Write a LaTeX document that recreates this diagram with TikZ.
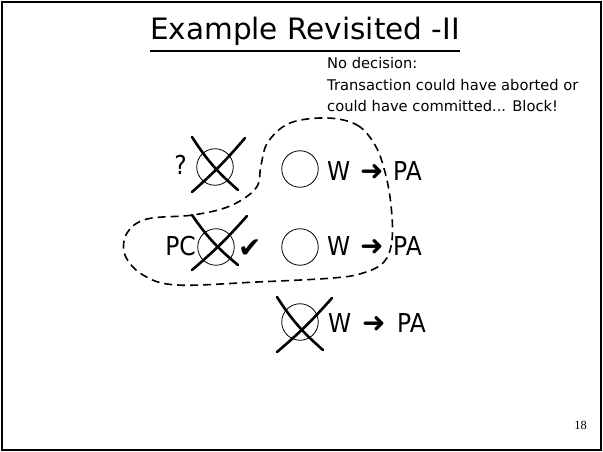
\documentclass[tikz,border=0pt]{standalone}
\usepackage{fontspec}
\setmainfont{DejaVu Sans}
\newfontfamily\narrowfont[FakeStretch=0.9]{DejaVu Sans}
\newfontfamily\symfont{DejaVu Sans}
\newfontfamily\numfont{Liberation Serif}
\usetikzlibrary{calc}
\begin{document}
\begin{tikzpicture}[x=1pt,y=-1pt,
  site/.style={circle,draw,line width=0.8pt,minimum size=36.5pt,inner sep=0pt},
  veto/.style={line width=2.6pt,line cap=round},
  lbl/.style={font=\narrowfont\fontsize{26}{26}\selectfont,inner sep=0pt},
  sym/.style={font=\symfont\bfseries\fontsize{28}{28}\selectfont,inner sep=0pt},
  note/.style={font=\fontsize{14.7}{14.7}\selectfont,inner sep=0pt,anchor=base west},
  group/.style={line width=1.6pt,dash pattern=on 8pt off 5pt}]
\useasboundingbox (0,0) rectangle (603,452);
% slide frame
\draw[line width=2.5pt] (2,2) rectangle (601,450);

% title with underline
\node[font=\fontsize{29.5}{29.5}\selectfont,inner sep=0pt,anchor=base] (title) at (305,40) {Example Revisited -II};
\draw[line width=2.5pt] ($(title.base west)+(0,11)$) -- ($(title.base east)+(0,11)$);

% explanation
\node[note] (n1) at (327,69) {No decision:};
\node[note] (n2) at (327,91) {Transaction could have aborted or};
\node[note] (n3) at (327,112) {could have committed... Block!};

% sites
\node[site] (c1a) at (215,167) {};
\node[site] (c1b) at (300,169) {};
\node[site] (c2a) at (216,247) {};
\node[site] (c2b) at (300,247) {};
\node[site] (c3)  at (300,322) {};

% crossed-out sites
\draw[veto] ($(c1a)+(-23,-30)$) to[bend right=8] ($(c1a)+(23,23)$);
\draw[veto] ($(c1a)+(30,-29)$) to[bend left=4] ($(c1a)+(-23,25)$);
\draw[veto] ($(c2a)+(-24,-32)$) to[bend right=8] ($(c2a)+(22,18)$);
\draw[veto] ($(c2a)+(31,-31)$) to[bend left=4] ($(c2a)+(-24,23)$);
\draw[veto] ($(c3)+(-23,-25)$) to[bend right=8] ($(c3)+(23,28)$);
\draw[veto] ($(c3)+(32,-24)$) to[bend left=4] ($(c3)+(-23,30)$);

% row 1
\node[lbl,anchor=base east] (q) at (187,175) {?};
\node[lbl,anchor=base west] (w1) at (327,180) {W};
\node[sym,anchor=base west] (a1) at (360,180) {➜};
\node[lbl,anchor=base west] (p1) at (393,180) {PA};

% row 2
\node[lbl,anchor=base east] (pc) at (196,255) {PC};
\node[sym,anchor=base west] (ok) at (238,257) {✔};
\node[lbl,anchor=base west] (w2) at (327,255) {W};
\node[sym,anchor=base west] (a2) at (360,255) {➜};
\node[lbl,anchor=base west] (p2) at (393,255) {PA};

% row 3
\node[lbl,anchor=base west] (w3) at (328,332) {W};
\node[sym,anchor=base west] (a3) at (362,332) {➜};
\node[lbl,anchor=base west] (p3) at (397,332) {PA};

% undecided group
\draw[group] plot[smooth cycle,tension=0.6] coordinates {
  (327,118) (357,125) (375,145) (385,172) (391,205) (392,240) (384,262)
  (363,273) (333,278) (257,282) (177,285) (143,275) (125,255) (127,233)
  (147,219) (193,215) (230,206) (256,188) (261,165) (268,142) (290,123)};

% page number
\node[font=\numfont\fontsize{12.5}{12.5}\selectfont,inner sep=0pt,anchor=base east] (pg) at (587,429) {18};
\end{tikzpicture}
\end{document}
